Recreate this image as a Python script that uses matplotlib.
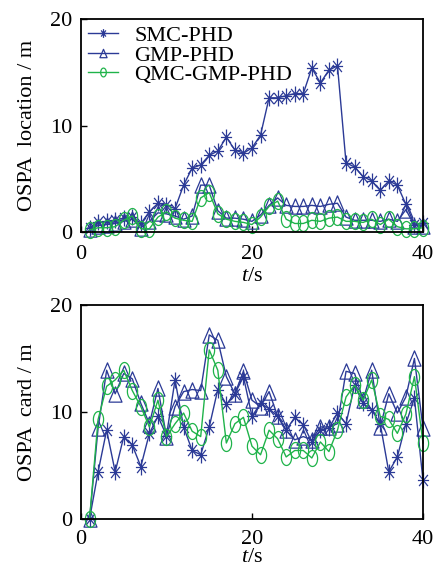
import numpy as np
import matplotlib
matplotlib.use("Agg")
import matplotlib.pyplot as plt
from matplotlib.path import Path

# time steps
t = np.arange(1, 41)

# OSPA location error (top)
smc_loc = [0.4, 0.9, 1.0, 1.1, 1.3, 1.4, 0.8, 1.9, 2.7, 2.5, 2.2, 4.4, 6.0, 6.3, 7.2, 7.6, 8.9, 7.7, 7.4, 7.9,
           9.1, 12.6, 12.6, 12.8, 13.0, 13.0, 15.4, 14.0, 15.2, 15.6, 6.5, 6.1, 5.2, 4.8, 3.9, 4.8, 4.4, 2.6, 0.7, 0.8]
gmp_loc = [0.3, 0.6, 0.7, 0.8, 1.0, 1.2, 0.4, 1.0, 1.8, 1.7, 1.5, 1.2, 1.5, 4.4, 4.4, 2.0, 1.3, 1.3, 1.2, 1.0,
           1.6, 2.5, 3.2, 2.5, 2.4, 2.4, 2.5, 2.4, 2.6, 2.7, 1.4, 1.1, 1.1, 1.1, 1.0, 1.2, 1.0, 2.1, 0.6, 0.6]
qmc_loc = [0.2, 0.4, 0.4, 0.5, 1.1, 1.5, 0.3, 0.3, 1.4, 1.9, 1.3, 1.1, 1.0, 3.2, 3.7, 1.7, 1.2, 1.0, 0.9, 0.7,
           1.4, 2.4, 2.9, 1.2, 0.8, 0.8, 1.1, 1.0, 1.3, 1.4, 1.0, 1.0, 0.9, 1.2, 0.7, 1.2, 0.5, 0.3, 0.3, 0.4]

# OSPA cardinality error (bottom)
smc_card = [0.0, 4.4, 8.3, 4.4, 7.7, 6.9, 4.9, 8.0, 9.6, 7.8, 13.0, 8.6, 6.4, 6.0, 8.6, 12.1, 10.7, 11.7, 13.3, 9.6,
            10.8, 10.3, 9.6, 8.3, 9.5, 8.8, 7.2, 8.3, 8.5, 9.9, 8.9, 12.5, 10.8, 10.2, 8.9, 4.4, 5.8, 8.9, 11.3, 3.6]
gmp_card = [0.0, 8.5, 13.9, 11.7, 13.6, 13.1, 10.8, 8.9, 12.2, 7.7, 10.5, 11.9, 12.1, 12.0, 17.2, 16.7, 13.3, 11.7, 13.8, 11.1,
            10.5, 11.9, 9.6, 8.3, 7.4, 7.7, 7.4, 8.6, 8.6, 8.9, 13.8, 13.6, 11.1, 13.9, 8.6, 11.7, 9.9, 11.4, 15.0, 8.5]
qmc_card = [0.0, 9.3, 12.4, 13.0, 13.9, 12.0, 10.5, 8.6, 11.1, 7.7, 8.9, 9.9, 8.2, 7.7, 15.8, 13.9, 7.1, 8.9, 9.5, 6.8,
            6.0, 8.3, 7.5, 5.8, 6.4, 6.4, 5.7, 7.2, 6.3, 8.3, 11.4, 12.5, 11.1, 13.0, 9.6, 9.3, 8.0, 9.8, 13.3, 7.1]

labels = ["SMC-PHD", "GMP-PHD", "QMC-GMP-PHD"]
blue = "#2b3a96"
green = "#1fb34a"

# tall markers (the original figure was stretched vertically)
th = np.linspace(0, 2 * np.pi, 40)
m_circle = Path(np.column_stack([0.64 * np.cos(th), np.sin(th)]))
m_tri = Path([(-0.85, -1), (0.85, -1), (0, 1), (-0.85, -1)],
             [Path.MOVETO, Path.LINETO, Path.LINETO, Path.CLOSEPOLY])
m_star = Path([(0, -1), (0, 1), (-0.7, 0), (0.7, 0), (-0.55, -0.7), (0.55, 0.7), (-0.55, 0.7), (0.55, -0.7)],
              [Path.MOVETO, Path.LINETO] * 4)

plt.rcParams['font.family'] = ['Liberation Serif', 'DejaVu Serif']
plt.rcParams['mathtext.fontset'] = 'custom'
plt.rcParams['mathtext.it'] = 'Liberation Serif:italic'
plt.rcParams['mathtext.rm'] = 'Liberation Serif'

fs = 16

fig = plt.figure(figsize=(4.39, 5.71), dpi=100)
ax1 = fig.add_axes([0.1845, 0.5937, 0.779, 0.373])
ax2 = fig.add_axes([0.1845, 0.0911, 0.779, 0.3748])

styles = [
    dict(color=blue, marker=m_star, ms=11.5),
    dict(color=blue, marker=m_tri, ms=11, mfc='none'),
    dict(color=green, marker=m_circle, ms=11.5, mfc='none'),
]


def draw(ax, series, ylabel, xpad, lpad):
    for y, lab, st in zip(series, labels, styles):
        ax.plot(t, y, lw=1.0, mew=0.9, label=lab, **st)
    ax.set_xlim(0, 40)
    ax.set_ylim(0, 20)
    ax.set_xticks([0, 20, 40])
    ax.set_yticks([0, 10, 20])
    ax.tick_params(direction='in', length=4, width=1, labelsize=fs)
    ax.tick_params(axis='x', pad=xpad)
    ax.tick_params(axis='y', pad=6)
    for s in ax.spines.values():
        s.set_linewidth(1.3)
    ax.set_xlabel("$t$/s", fontsize=fs, labelpad=lpad)
    ax.set_ylabel(ylabel, fontsize=fs, labelpad=10)
    ax.patch.set_alpha(0)
    for ln in ax.lines:
        ln.set_clip_on(False)


draw(ax1, [smc_loc, gmp_loc, qmc_loc], "OSPA  location / m", 9.5, 2)
draw(ax2, [smc_card, gmp_card, qmc_card], "OSPA  card / m", 8, -1)

ax1.legend(loc='upper left', frameon=False, fontsize=fs, markerscale=0.55,
           handlelength=1.35, handletextpad=0.75, labelspacing=-0.05,
           borderaxespad=0.1, borderpad=0.2)

fig.savefig("out.png", dpi=100)
